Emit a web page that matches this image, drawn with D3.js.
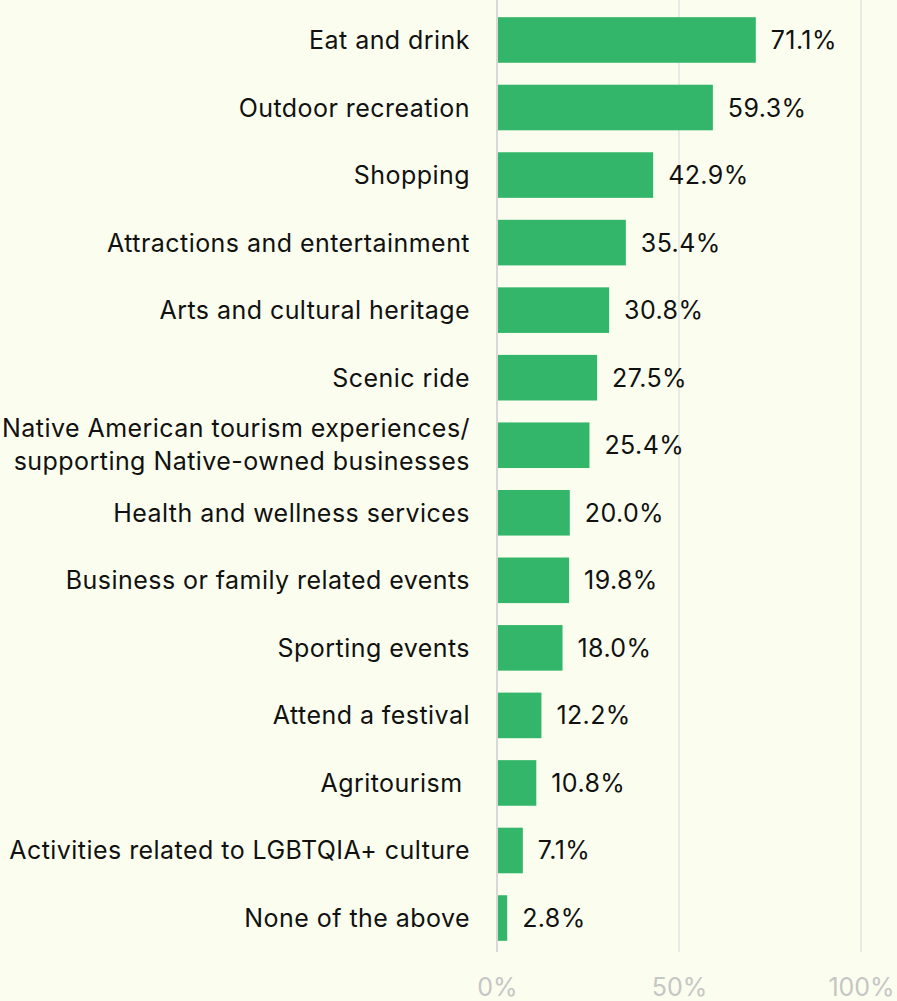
<!DOCTYPE html>
<html><head><meta charset="utf-8">
<script src="https://cdn.jsdelivr.net/npm/d3@7"></script>
<style>
html,body{margin:0;padding:0;background:#fbfeee;}
svg{display:block;font-family:Inter, Roboto, sans-serif;}
</style></head>
<body><svg id="c" width="897" height="1001"></svg>
<script>
const categories = ["Eat and drink","Outdoor recreation","Shopping","Attractions and entertainment","Arts and cultural heritage","Scenic ride","Native American tourism experiences/\nsupporting Native-owned businesses","Health and wellness services","Business or family related events","Sporting events","Attend a festival","Agritourism ","Activities related to LGBTQIA+ culture","None of the above"];
const values = [71.1,59.3,42.9,35.4,30.8,27.5,25.4,20.0,19.8,18.0,12.2,10.8,7.1,2.8];
const ticks = [0,50,100];

const svg = d3.select("#c");
const x = d3.scaleLinear().domain([0,100]).range([497,861]);
const y = d3.scaleBand().domain(categories).range([6.2,951.8]).paddingInner(0.325).paddingOuter(0.1625);

svg.append("g").selectAll("line").data(ticks).join("line")
  .attr("x1",d=>x(d)).attr("x2",d=>x(d)).attr("y1",0).attr("y2",952)
  .attr("stroke",d=>d===0?"#d8d8d8":"#ebebe6").attr("stroke-width",2);

const xAxis = d3.axisBottom(x).tickValues(ticks).tickFormat(d=>d+"%").tickSize(0).tickPadding(0);
const gx = svg.append("g").attr("transform","translate(0,978)").call(xAxis);
gx.select(".domain").remove();
gx.selectAll("text").attr("font-size",25).attr("fill","#c6c6c6").attr("dy","0.73em")
  .style("font-family","Inter, sans-serif");

svg.append("g").selectAll("rect").data(values).join("rect")
  .attr("x",x(0)+1).attr("y",(d,i)=>y(categories[i]))
  .attr("width",d=>x(d)-x(0)-1).attr("height",y.bandwidth())
  .attr("fill","#33b66a");

svg.append("g").selectAll("text").data(values).join("text")
  .attr("x",d=>x(d)+15).attr("y",(d,i)=>y(categories[i])+y.bandwidth()/2)
  .attr("dy","0.36em").attr("font-size",25).attr("fill","#111")
  .style("letter-spacing","0.4px")
  .text(d=>d.toFixed(1)+"%");

const lab = svg.append("g").selectAll("text").data(categories).join("text")
  .attr("x",470).attr("y",d=>y(d)+y.bandwidth()/2)
  .attr("text-anchor","end").attr("font-size",25).attr("fill","#111")
  .style("white-space","pre").style("letter-spacing","0.45px");
lab.each(function(d){
  const lines = d.split("\n");
  const t = d3.select(this);
  lines.forEach((l,i)=>{
    t.append("tspan").attr("x",470)
     .attr("dy", i===0 ? (0.36 - (lines.length-1)*0.7)+"em" : "1.32em")
     .text(l);
  });
});
</script></body></html>
